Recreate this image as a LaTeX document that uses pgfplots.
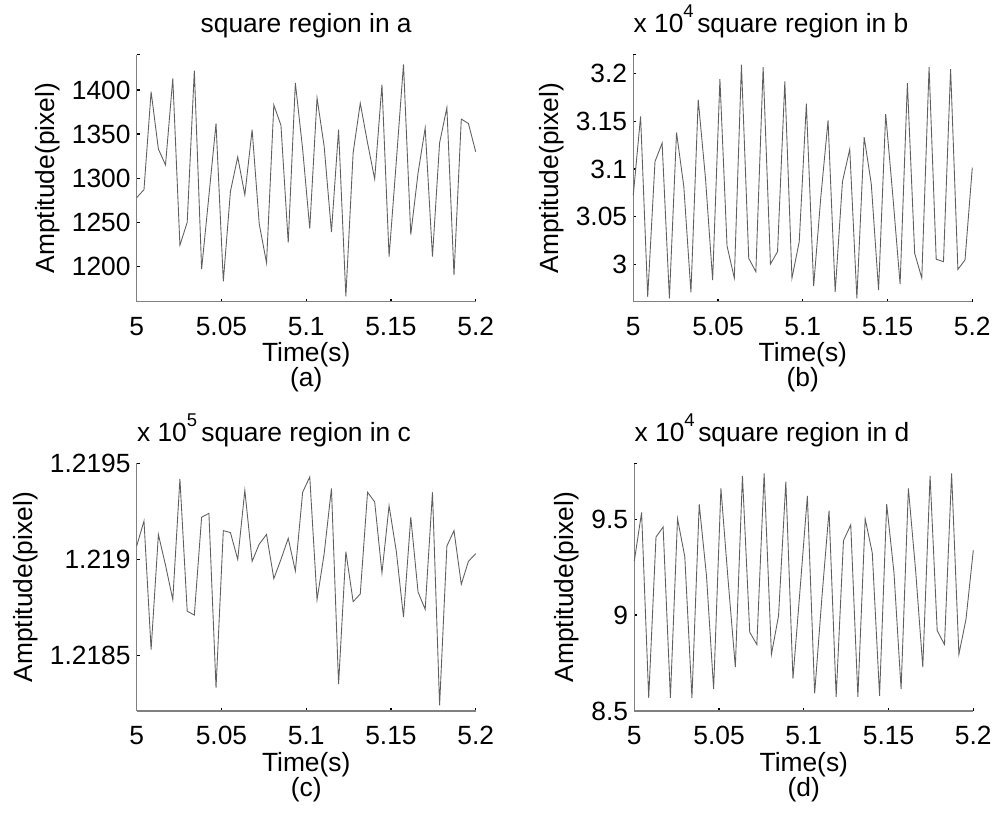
\documentclass[border=0pt]{standalone}
\usepackage{pgfplots}
\pgfplotsset{compat=1.18}
\usepackage{pgfplotstable}
\usepackage{fontspec}
\setmainfont{Liberation Sans}

\pgfplotstableread{
t a b c d
5.0000 1278 30729 121907 92810
5.0043 1287 31552 121920 95345
5.0085 1398 29660 121853 85690
5.0128 1333 31079 121913 94069
5.0170 1315 31271 121897 94586
5.0213 1413 29643 121879 85690
5.0255 1224 31383 121942 95017
5.0298 1250 30816 121873 93035
5.0340 1422 29706 121871 85690
5.0383 1197 31727 121922 95776
5.0426 1280 30900 121924 92035
5.0468 1362 29835 121833 86139
5.0511 1183 31944 121915 96603
5.0553 1285 30193 121914 91862
5.0596 1324 29856 121900 87294
5.0638 1281 32095 121936 97258
5.0681 1355 30063 121899 89104
5.0723 1248 29923 121908 88466
5.0766 1204 32070 121913 97379
5.0809 1383 30003 121890 87949
5.0851 1360 30133 121900 89966
5.0894 1227 31919 121911 96948
5.0936 1408 29856 121894 86690
5.0979 1333 30238 121935 91449
5.1021 1243 31685 121943 96207
5.1064 1391 29772 121879 85914
5.1106 1336 30700 121903 90828
5.1149 1239 31510 121937 95448
5.1191 1355 29709 121835 85742
5.1234 1166 30869 121904 93879
5.1277 1329 31208 121878 94707
5.1319 1385 29643 121882 85742
5.1362 1340 31334 121935 95017
5.1404 1299 30844 121930 93241
5.1447 1406 29730 121893 85794
5.1489 1211 31576 121928 95776
5.1532 1320 30700 121904 92207
5.1574 1429 29793 121870 86139
5.1617 1236 31902 121922 96603
5.1660 1306 30116 121883 92293
5.1702 1357 29856 121874 87294
5.1745 1211 32070 121935 97258
5.1787 1340 30053 121824 89190
5.1830 1380 30028 121907 88466
5.1872 1190 32049 121915 97379
5.1915 1367 29947 121887 87949
5.1957 1362 30046 121899 89793
5.2000 1330 31016 121903 93379
}\data

\definecolor{sigline}{RGB}{95,95,95}
\definecolor{axline}{RGB}{128,128,128}
\newcommand{\fs}{\fontsize{15}{18}\selectfont}
\newcommand{\mult}[1]{x 10\raisebox{8.5pt}{\fontsize{10.5}{10.5}\selectfont #1}}

\pgfplotsset{
  every axis title shift=0pt,
  panel/.style={
    scale only axis, width=6.78cm, height=4.94cm,
    anchor=south west, clip=false,
    axis x line*=bottom, axis y line*=left,
    axis line style={axline, line width=0.6pt},
    tick align=inside,
    major tick length=1.8pt,
    tick style={black, line width=0.7pt},
    xmin=5, xmax=5.2,
    xtick={5,5.05,5.1,5.15,5.2},
    xticklabels={5,5.05,5.1,5.15,5.2},
    /pgf/number format/assume math mode=true,
    ticklabel style={font=\fs},
    xticklabel style={anchor=base, yshift=-19.3pt},
    scaled y ticks=false,
    ylabel={Amptitude(pixel)},
    xlabel={Time(s)},
    label style={font=\fs},
    xlabel style={at={(axis description cs:0.5,0)}, anchor=base, yshift=-34.2pt},
    title style={at={(axis description cs:0.5,1)}, anchor=base, yshift=12.5pt, font=\fs},
    extra tick style={major tick length=1.8pt},
  },
  sig/.style={sigline, line width=0.5pt, mark=none},
}

\begin{document}
\begin{tikzpicture}
\path[use as bounding box] (0,0) rectangle (20cm,16.58cm);

\begin{axis}[panel, at={(2.734cm,10.546cm)},
  ymin=1160, ymax=1440,
  ytick={1200,1250,1300,1350,1400},
  yticklabels={1200,1250,1300,1350,1400},
  extra y ticks={1440}, extra y tick labels={},
  title={square region in a}]
\addplot[sig] table[x=t, y=a] {\data};
\node[font=\fs, anchor=base] at (axis description cs:0.5,0) [yshift=-48.4pt] {(a)};
\end{axis}

\begin{axis}[panel, at={(12.666cm,10.546cm)},
  ymin=29608, ymax=32200,
  ytick={30000,30500,31000,31500,32000},
  yticklabels={3,3.05,3.1,3.15,3.2},
  extra y ticks={32200}, extra y tick labels={},
  title={square region in b}]
\addplot[sig] table[x=t, y=b] {\data};
\node[font=\fs, anchor=base] at (axis description cs:0.5,0) [yshift=-48.4pt] {(b)};
\node[font=\fs, anchor=base west, inner sep=0pt] at (axis description cs:0,1) [yshift=12.5pt] {\mult{4}};
\end{axis}

\begin{axis}[panel, at={(2.734cm,2.36cm)}, height=4.95cm,
  ymin=121821, ymax=121950,
  ytick={121850,121900,121950},
  yticklabels={1.2185,1.219,1.2195},
  title={square region in c}]
\addplot[sig] table[x=t, y=c] {\data};
\node[font=\fs, anchor=base] at (axis description cs:0.5,0) [yshift=-48.4pt] {(c)};
\node[font=\fs, anchor=base west, inner sep=0pt] at (axis description cs:0,1) [yshift=12.5pt] {\mult{5}};
\end{axis}

\begin{axis}[panel, at={(12.686cm,2.36cm)}, height=4.95cm,
  ymin=85000, ymax=97900,
  ytick={85000,90000,95000},
  yticklabels={8.5,9,9.5},
  extra y ticks={97900}, extra y tick labels={},
  title={square region in d}]
\addplot[sig] table[x=t, y=d] {\data};
\node[font=\fs, anchor=base] at (axis description cs:0.5,0) [yshift=-48.4pt] {(d)};
\node[font=\fs, anchor=base west, inner sep=0pt] at (axis description cs:0,1) [yshift=12.5pt] {\mult{4}};
\end{axis}
\end{tikzpicture}
\end{document}
